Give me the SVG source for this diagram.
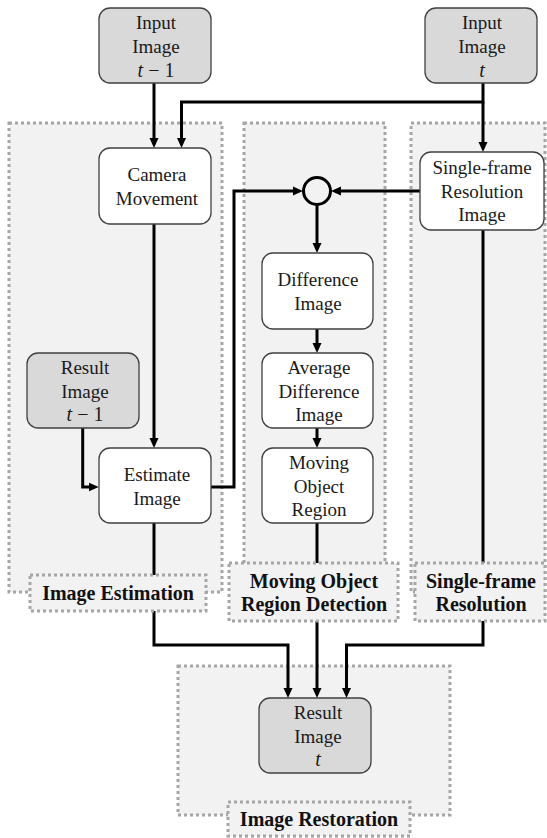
<svg xmlns="http://www.w3.org/2000/svg" width="547" height="838" viewBox="0 0 547 838">
<defs>
<marker id="ah" markerUnits="userSpaceOnUse" markerWidth="10" markerHeight="10" refX="6" refY="5" orient="auto">
<path d="M0,0.5 L10,5 L0,9.5 z" fill="#000"/>
</marker>
<style>
.region{fill:#f2f2f2;stroke:#a6a6a6;stroke-width:3;stroke-dasharray:3 3}
.lbl{fill:#f2f2f2;stroke:#a6a6a6;stroke-width:3;stroke-dasharray:3 3}
.node{fill:#fff;stroke:#404040;stroke-width:1.3}
.gnode{fill:#d9d9d9;stroke:#404040;stroke-width:1.3}
text{font-family:'Liberation Serif','DejaVu Serif',serif;fill:#1a1a1a;text-anchor:middle}
.t{font-size:19px}
.b{font-size:20px;font-weight:bold;fill:#111}
.m{font-size:20px}
.c{fill:none;stroke:#000;stroke-width:3}
.ca{fill:none;stroke:#000;stroke-width:3;marker-end:url(#ah)}
</style>
</defs>
<rect width="547" height="838" fill="#fff"/>

<g id="region-estimation"><rect class="region" x="9" y="123" width="213" height="469"/></g>
<g id="region-detection"><rect class="region" x="244" y="123" width="141" height="469"/></g>
<g id="region-single"><rect class="region" x="411" y="123" width="134" height="469"/></g>
<g id="region-restoration"><rect class="region" x="178" y="666" width="272" height="149"/></g>

<g id="connectors">
<path class="ca" d="M154,83 V144"/>
<path class="ca" d="M483,83 V102 H181.5 V144"/>
<path class="ca" d="M483,102 V148"/>
<path class="ca" d="M154,224 V444"/>
<path class="ca" d="M82.7,428 V487 H94.7"/>
<path class="ca" d="M211,487 H234 V191 H299"/>
<path class="ca" d="M420,191 H335"/>
<circle class="c" cx="317" cy="191" r="13.5"/>
<path class="ca" d="M317,205 V249"/>
<path class="ca" d="M317,329 V349"/>
<path class="ca" d="M317,428 V444"/>
<path class="ca" d="M154,523 V645 H288 V694"/>
<path class="ca" d="M317,523 V694"/>
<path class="ca" d="M483,230 V645 H346.5 V694"/>
</g>

<g id="label-estimation"><rect class="lbl" x="30" y="575" width="176" height="36"/><text class="b" x="118" y="600">Image Estimation</text></g>
<g id="label-detection"><rect class="lbl" x="229" y="563" width="169" height="58"/><text class="b" x="314" y="588">Moving Object</text><text class="b" x="314" y="611">Region Detection</text></g>
<g id="label-single"><rect class="lbl" x="415" y="563" width="130" height="58"/><text class="b" x="481" y="588">Single-frame</text><text class="b" x="481" y="611">Resolution</text></g>
<g id="label-restoration"><rect class="lbl" x="228" y="802" width="182" height="34"/><text class="b" x="319" y="826">Image Restoration</text></g>

<g id="input-t1"><rect class="gnode" x="99" y="8" width="112" height="75" rx="11"/><text class="t" x="156" y="29">Input</text><text class="t" x="156" y="53">Image</text><text class="m" x="156" y="77"><tspan font-style="italic">t</tspan> − 1</text></g>
<g id="input-t"><rect class="gnode" x="425" y="8" width="112" height="75" rx="11"/><text class="t" x="482" y="29">Input</text><text class="t" x="482" y="53">Image</text><text class="m" x="482" y="77" font-style="italic">t</text></g>
<g id="camera"><rect class="node" x="99" y="148" width="112" height="76" rx="11"/><text class="t" x="157" y="181">Camera</text><text class="t" x="157" y="205">Movement</text></g>
<g id="single-frame"><rect class="node" x="420" y="152" width="124" height="78" rx="11"/><text class="t" x="482" y="174">Single-frame</text><text class="t" x="482" y="197.5">Resolution</text><text class="t" x="482" y="221">Image</text></g>
<g id="difference"><rect class="node" x="262" y="253" width="111" height="76" rx="11"/><text class="t" x="318" y="286">Difference</text><text class="t" x="318" y="310">Image</text></g>
<g id="average"><rect class="node" x="262" y="353" width="111" height="75" rx="11"/><text class="t" x="319" y="374">Average</text><text class="t" x="319" y="397.5">Difference</text><text class="t" x="319" y="421">Image</text></g>
<g id="moving"><rect class="node" x="262" y="448" width="111" height="75" rx="11"/><text class="t" x="319" y="469">Moving</text><text class="t" x="319" y="492.5">Object</text><text class="t" x="319" y="516">Region</text></g>
<g id="result-t1"><rect class="gnode" x="27" y="353" width="112" height="75" rx="11"/><text class="t" x="85" y="374">Result</text><text class="t" x="85" y="397.5">Image</text><text class="m" x="85" y="421"><tspan font-style="italic">t</tspan> − 1</text></g>
<g id="estimate"><rect class="node" x="99" y="448" width="112" height="75" rx="11"/><text class="t" x="157" y="481">Estimate</text><text class="t" x="157" y="505">Image</text></g>
<g id="result-t"><rect class="gnode" x="259" y="698" width="112" height="75" rx="11"/><text class="t" x="318" y="719">Result</text><text class="t" x="318" y="742.5">Image</text><text class="m" x="318" y="766" font-style="italic">t</text></g>
</svg>
